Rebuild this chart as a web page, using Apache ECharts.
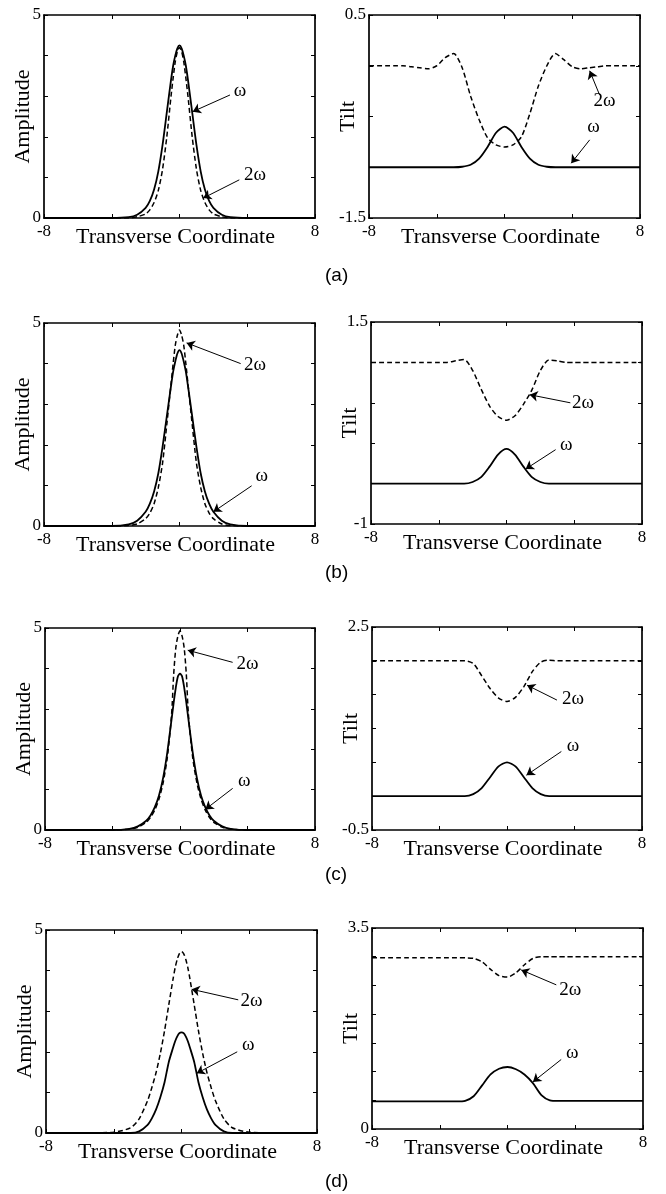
<!DOCTYPE html>
<html>
<head>
<meta charset="utf-8">
<script src="https://cdn.jsdelivr.net/npm/echarts@6/dist/echarts.min.js"></script>
<style>
  html, body { margin: 0; padding: 0; background: #fff; }
  #chart { width: 666px; height: 1194px; }
</style>
</head>
<body>
<div id="chart"></div>
<script>
// transverse coordinate samples
const ampX = [-8, -6, -4, -3, -2.5, -2, -1.75, -1.5, -1.25, -1, -0.75, -0.5, -0.375, -0.25, -0.125, 0,
  0.125, 0.25, 0.375, 0.5, 0.75, 1, 1.25, 1.5, 1.75, 2, 2.5, 3, 4, 6, 8]
const tiltX = [-8, -7.5, -7, -6.5, -6, -5.5, -5, -4.5, -4, -3.5, -3, -2.5, -2, -1.5, -1, -0.5, 0,
  0.5, 1, 1.5, 2, 2.5, 3, 3.5, 4, 4.5, 5, 5.5, 6, 6.5, 7, 7.5, 8]

// amplitude, omega (solid) and 2 omega (dashed)
const ampW_a = [0, 0, 0, 0.02, 0.08, 0.25, 0.42, 0.7, 1.15, 1.8, 2.6, 3.4, 3.75, 4.0, 4.18, 4.25,
  4.18, 4.0, 3.75, 3.4, 2.6, 1.8, 1.15, 0.7, 0.42, 0.25, 0.08, 0.02, 0, 0, 0]
const amp2W_a = [0, 0, 0, 0, 0.03, 0.1, 0.2, 0.38, 0.68, 1.2, 2.0, 3.0, 3.45, 3.85, 4.1, 4.2,
  4.1, 3.85, 3.45, 3.0, 2.0, 1.2, 0.68, 0.38, 0.2, 0.1, 0.03, 0, 0, 0, 0]
const ampW_b = [0, 0, 0, 0.04, 0.13, 0.35, 0.55, 0.85, 1.3, 1.95, 2.7, 3.45, 3.8, 4.05, 4.25, 4.33,
  4.25, 4.05, 3.8, 3.45, 2.7, 1.95, 1.3, 0.85, 0.55, 0.35, 0.13, 0.04, 0, 0, 0]
const amp2W_b = [0, 0, 0, 0.01, 0.05, 0.18, 0.32, 0.55, 0.95, 1.55, 2.5, 3.5, 4.0, 4.45, 4.7, 4.83,
  4.7, 4.45, 4.0, 3.5, 2.5, 1.55, 0.95, 0.55, 0.32, 0.18, 0.05, 0.01, 0, 0, 0]
const ampW_c = [0, 0, 0, 0.03, 0.09, 0.23, 0.36, 0.56, 0.85, 1.29, 1.93, 2.74, 3.15, 3.52, 3.8, 3.87,
  3.8, 3.52, 3.15, 2.74, 1.93, 1.29, 0.85, 0.56, 0.36, 0.23, 0.09, 0.03, 0, 0, 0]
const amp2W_c = [0, 0, 0, 0.02, 0.07, 0.19, 0.31, 0.49, 0.76, 1.17, 1.8, 2.85, 3.85, 4.5, 4.8, 4.93,
  4.8, 4.5, 3.85, 2.85, 1.8, 1.17, 0.76, 0.49, 0.31, 0.19, 0.07, 0.02, 0, 0, 0]
const ampW_d = [0, 0, 0, 0, 0.04, 0.2, 0.36, 0.58, 0.88, 1.25, 1.75, 2.1, 2.26, 2.38, 2.46, 2.48,
  2.46, 2.38, 2.26, 2.1, 1.75, 1.25, 0.88, 0.58, 0.36, 0.2, 0.04, 0, 0, 0, 0]
const amp2W_d = [0, 0, 0.02, 0.13, 0.35, 0.8, 1.12, 1.49, 1.96, 2.52, 3.16, 3.79, 4.07, 4.28, 4.42, 4.47,
  4.42, 4.28, 4.07, 3.79, 3.16, 2.52, 1.96, 1.49, 1.12, 0.8, 0.35, 0.13, 0.02, 0, 0]

// tilt, omega (solid) and 2 omega (dashed)
const tiltW_a = [-1, -1, -1, -1, -1, -1, -1, -1, -1, -1, -1, -0.995, -0.975, -0.915, -0.8, -0.66, -0.6,
  -0.66, -0.8, -0.915, -0.975, -0.995, -1, -1, -1, -1, -1, -1, -1, -1, -1, -1, -1]
const tilt2W_a = [0, 0, 0, 0, 0, -0.01, -0.02, -0.03, 0, 0.08, 0.12, -0.02, -0.3, -0.53, -0.71, -0.78, -0.8,
  -0.78, -0.7, -0.47, -0.2, 0, 0.12, 0.06, -0.01, -0.03, -0.02, -0.01, 0, 0, 0, 0, 0]
const tiltW_b = [-0.5, -0.5, -0.5, -0.5, -0.5, -0.5, -0.5, -0.5, -0.5, -0.5, -0.5, -0.5, -0.48, -0.42, -0.29, -0.14, -0.07,
  -0.14, -0.29, -0.42, -0.48, -0.5, -0.5, -0.5, -0.5, -0.5, -0.5, -0.5, -0.5, -0.5, -0.5, -0.5, -0.5]
const tilt2W_b = [1, 1, 1, 1, 1, 1, 1, 1, 1, 1, 1.02, 1.035, 0.9, 0.67, 0.46, 0.33, 0.285,
  0.34, 0.48, 0.66, 0.9, 1.03, 1.02, 1, 1, 1, 1, 1, 1, 1, 1, 1, 1]
const tiltW_c = [0, 0, 0, 0, 0, 0, 0, 0, 0, 0, 0, 0, 0.03, 0.12, 0.28, 0.44, 0.5,
  0.44, 0.28, 0.12, 0.03, 0, 0, 0, 0, 0, 0, 0, 0, 0, 0, 0, 0]
const tilt2W_c = [2, 2, 2, 2, 2, 2, 2, 2, 2, 2, 2, 2, 1.96, 1.78, 1.59, 1.45, 1.4,
  1.46, 1.62, 1.84, 1.98, 2.01, 2, 2, 2, 2, 2, 2, 2, 2, 2, 2, 2]
const tiltW_d = [0.48, 0.48, 0.48, 0.48, 0.48, 0.48, 0.48, 0.48, 0.48, 0.48, 0.48, 0.49, 0.57, 0.76, 0.95, 1.05, 1.08,
  1.04, 0.95, 0.8, 0.59, 0.5, 0.49, 0.49, 0.49, 0.49, 0.49, 0.49, 0.49, 0.49, 0.49, 0.49, 0.49]
const tilt2W_d = [2.98, 2.98, 2.98, 2.98, 2.98, 2.98, 2.98, 2.98, 2.98, 2.98, 2.98, 2.98, 2.97, 2.91, 2.78, 2.67, 2.645,
  2.72, 2.86, 2.97, 3, 3, 3, 3, 3, 3, 3, 3, 3, 3, 3, 3, 3]

// annotations: text, text x/y, arrow start x/y, arrow tip x/y (data units)
const notesAmp_a = [['ω', 3.57, 3.12, 2.98, 3.03, 0.78, 2.62], ['2ω', 4.46, 1.05, 3.53, 0.94, 1.4, 0.49]]
const notesTilt_a = [['2ω', 5.91, -0.35, 5.62, -0.29, 5.03, -0.05], ['ω', 5.26, -0.6, 5.03, -0.73, 3.94, -0.96]]
const notesAmp_b = [['2ω', 4.46, 3.97, 3.61, 4.0, 0.42, 4.51], ['ω', 4.85, 1.24, 4.26, 0.99, 2.0, 0.35]]
const notesTilt_b = [['2ω', 4.51, 0.5, 3.77, 0.5, 1.37, 0.6], ['ω', 3.53, -0.02, 2.9, -0.08, 1.13, -0.32]]
const notesAmp_c = [['2ω', 4.0, 4.12, 3.12, 4.15, 0.46, 4.45], ['ω', 3.81, 1.22, 3.12, 1.03, 1.5, 0.51]]
const notesTilt_c = [['2ω', 3.91, 1.43, 2.96, 1.42, 1.19, 1.64], ['ω', 3.91, 0.74, 3.22, 0.66, 1.15, 0.31]]
const notesAmp_d = [['2ω', 4.14, 3.26, 3.35, 3.28, 0.6, 3.54], ['ω', 3.94, 2.17, 3.29, 2.0, 0.9, 1.47]]
const notesTilt_d = [['2ω', 3.71, 2.42, 2.88, 2.51, 0.81, 2.77], ['ω', 3.82, 1.32, 3.17, 1.21, 1.5, 0.82]]

const panelLabels = ['(a)', '(b)', '(c)', '(d)']

// layout of the eight plots: [left, top, width, height]
const panels = [
  { box: [44, 15, 271, 203], name: 'Amplitude', y: [0, 5, 1], xs: ampX, w: ampW_a, w2: amp2W_a, notes: notesAmp_a },
  { box: [369, 15, 271, 203], name: 'Tilt', y: [-1.5, 0.5, 0.5], xs: tiltX, w: tiltW_a, w2: tilt2W_a, notes: notesTilt_a },
  { box: [44, 323, 271, 203], name: 'Amplitude', y: [0, 5, 1], xs: ampX, w: ampW_b, w2: amp2W_b, notes: notesAmp_b },
  { box: [371, 322, 271, 202], name: 'Tilt', y: [-1, 1.5, 0.5], xs: tiltX, w: tiltW_b, w2: tilt2W_b, notes: notesTilt_b },
  { box: [45, 628, 270, 202], name: 'Amplitude', y: [0, 5, 1], xs: ampX, w: ampW_c, w2: amp2W_c, notes: notesAmp_c },
  { box: [372, 627, 270, 203], name: 'Tilt', y: [-0.5, 2.5, 0.5], xs: tiltX, w: tiltW_c, w2: tilt2W_c, notes: notesTilt_c },
  { box: [46, 930, 271, 203], name: 'Amplitude', y: [0, 5, 1], xs: ampX, w: ampW_d, w2: amp2W_d, notes: notesAmp_d },
  { box: [372, 928, 271, 201], name: 'Tilt', y: [0, 3.5, 0.5], xs: tiltX, w: tiltW_d, w2: tilt2W_d, notes: notesTilt_d },
]
const labelTops = [266, 563, 865, 1172]

const serif = 'Liberation Serif, Times New Roman, serif'
const frame = { show: true, onZero: false, lineStyle: { color: '#000', width: 1.7 } }
const ticks = { show: true, inside: true, length: 4, lineStyle: { color: '#000', width: 1 } }
const tickFont = { color: '#000', fontFamily: serif, fontSize: 17 }
const nameFont = { color: '#000', fontFamily: serif, fontSize: 22 }

const grids = []
const xAxes = []
const yAxes = []
const series = []

panels.forEach((p, i) => {
  const [left, top, width, height] = p.box
  const [ymin, ymax, step] = p.y
  grids.push({ left, top, width, height, outerBoundsMode: 'none' })

  xAxes.push({
    gridIndex: i, type: 'value', position: 'bottom', min: -8, max: 8, interval: 4,
    name: 'Transverse Coordinate', nameLocation: 'middle', nameGap: 8, nameMoveOverlap: false,
    nameTextStyle: Object.assign({ padding: [0, 8, 0, 0] }, nameFont),
    axisLine: frame, axisTick: ticks, splitLine: { show: false },
    axisLabel: Object.assign({
      margin: 5, showMinLabel: true, showMaxLabel: true,
      formatter: v => (v === -8 || v === 8) ? String(v) : '',
    }, tickFont),
  })
  xAxes.push({
    gridIndex: i, type: 'value', position: 'top', min: -8, max: 8, interval: 4,
    axisLine: frame, axisTick: ticks, splitLine: { show: false }, axisLabel: { show: false },
  })
  yAxes.push({
    gridIndex: i, type: 'value', position: 'left', min: ymin, max: ymax, interval: step,
    name: p.name, nameLocation: 'middle', nameGap: 10, nameMoveOverlap: false, nameTextStyle: nameFont,
    axisLine: frame, axisTick: ticks, splitLine: { show: false },
    axisLabel: Object.assign({
      margin: 3, showMinLabel: true, showMaxLabel: true,
      formatter: v => (v === ymin || v === ymax) ? String(v) : '',
    }, tickFont),
  })
  yAxes.push({
    gridIndex: i, type: 'value', position: 'right', min: ymin, max: ymax, interval: step,
    axisLine: frame, axisTick: ticks, splitLine: { show: false }, axisLabel: { show: false },
  })

  series.push({
    type: 'line', xAxisIndex: 2 * i, yAxisIndex: 2 * i,
    data: p.xs.map((x, k) => [x, p.w[k]]),
    showSymbol: false, smooth: 0.25,
    lineStyle: { color: '#000', width: 1.8 },
    markLine: {
      silent: true, symbol: ['none', 'arrow'], symbolSize: 8,
      lineStyle: { color: '#000', width: 1, type: 'solid' },
      label: { show: false },
      data: p.notes.map(n => [{ coord: [n[3], n[4]] }, { coord: [n[5], n[6]] }]),
    },
    markPoint: {
      silent: true, symbol: 'rect', symbolSize: 1, itemStyle: { color: 'rgba(0,0,0,0)' },
      label: { show: true, position: 'inside', formatter: '{b}', color: '#000', fontFamily: serif, fontSize: 19 },
      data: p.notes.map(n => ({ name: n[0], coord: [n[1], n[2]] })),
    },
  })
  series.push({
    type: 'line', xAxisIndex: 2 * i, yAxisIndex: 2 * i,
    data: p.xs.map((x, k) => [x, p.w2[k]]),
    showSymbol: false, smooth: 0.25,
    lineStyle: { color: '#000', width: 1.5, type: [5, 3] },
  })
})

const chart = echarts.init(document.getElementById('chart'))
chart.setOption({
  animation: false,
  backgroundColor: '#fff',
  title: panelLabels.map((t, i) => ({
    text: t, left: 325, top: labelTops[i], padding: 0,
    textStyle: { color: '#000', fontFamily: 'Liberation Sans, Arial, sans-serif', fontSize: 19, fontWeight: 'normal' },
  })),
  grid: grids,
  xAxis: xAxes,
  yAxis: yAxes,
  series: series,
})
</script>
</body>
</html>
